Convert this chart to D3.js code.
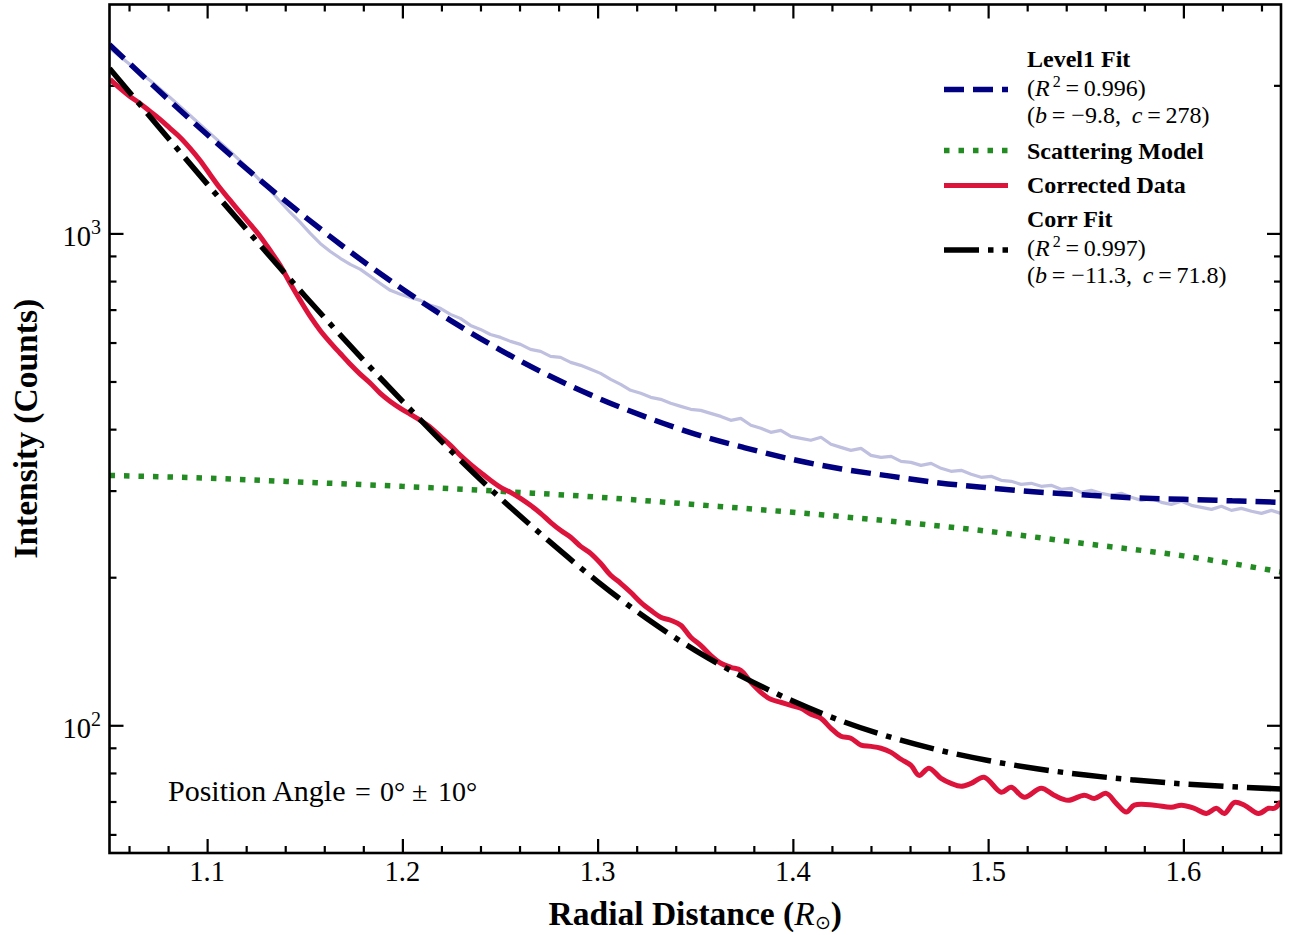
<!DOCTYPE html>
<html>
<head>
<meta charset="utf-8">
<script src="https://cdnjs.cloudflare.com/ajax/libs/d3/7.8.5/d3.min.js"></script>
<style>
	html, body { margin: 0; padding: 0; background: #fff; }
	svg { display: block; font-family: 'Liberation Serif', 'Times New Roman', serif; }
</style>
</head>
<body>
<div id="chart"></div>
<script>
'use strict';

// axis limits and ticks
var xDomain		= [1.05, 1.65];
var yDomain		= [55, 2920];
var xTicks		= [1.1, 1.2, 1.3, 1.4, 1.5, 1.6];
var xMinor		= [1.06, 1.08, 1.12, 1.14, 1.16, 1.18, 1.22, 1.24, 1.26, 1.28, 1.32, 1.34, 1.36, 1.38,
				   1.42, 1.44, 1.46, 1.48, 1.52, 1.54, 1.56, 1.58, 1.62, 1.64];
var yTicks		= [100, 1000];
var yTickExp	= ['2', '3'];
var yMinor		= [60, 70, 80, 90, 200, 300, 400, 500, 600, 700, 800, 900, 2000];

// fitted curves
var fitR		= [1.05, 1.075, 1.10, 1.125, 1.15, 1.175, 1.20, 1.225, 1.25, 1.275, 1.30, 1.325, 1.35,
				   1.375, 1.40, 1.425, 1.45, 1.475, 1.50, 1.525, 1.55, 1.575, 1.60, 1.625, 1.65];
var level1Fit	= [2420, 1954, 1589, 1304, 1082, 907, 771, 664, 580, 514, 463, 423, 391,
				   367, 347, 332, 321, 311, 304, 298, 294, 290, 288, 286, 284];
var corrFit		= [2165, 1650, 1261, 968, 747, 581, 456, 361, 290, 237, 196, 165, 142,
				   125, 112, 102, 94.6, 89.0, 84.8, 81.6, 79.2, 77.4, 76.0, 75.0, 74.2];

// scattering model
var scatterR	= [1.05, 1.10, 1.15, 1.20, 1.25, 1.30, 1.35, 1.40, 1.45, 1.50, 1.55, 1.60, 1.65];
var scatterModel = [322, 318, 312, 306, 299, 291, 281, 271, 260, 248, 234, 221, 205];

// level1 data (faint)
var level1R		= [1.0503, 1.0605, 1.0708, 1.0810, 1.0913, 1.1015, 1.1118, 1.1221, 1.1323,
				   1.1374, 1.1426, 1.1477, 1.1528, 1.1579, 1.1631, 1.1682, 1.1733, 1.1785, 1.1836,
				   1.1887, 1.1938, 1.1990, 1.2041, 1.2092, 1.2144, 1.2195, 1.2246, 1.2297, 1.2349,
				   1.2400, 1.2451, 1.2503, 1.2554, 1.2605, 1.2656, 1.2708, 1.2759, 1.2810, 1.2862,
				   1.2913, 1.2964, 1.3015, 1.3067, 1.3118, 1.3169, 1.3221, 1.3272, 1.3323, 1.3374,
				   1.3426, 1.3477, 1.3528, 1.3579, 1.3631, 1.3682, 1.3733, 1.3785, 1.3836, 1.3887,
				   1.3938, 1.3990, 1.4041, 1.4092, 1.4144, 1.4195, 1.4246, 1.4297, 1.4349, 1.4400,
				   1.4451, 1.4503, 1.4554, 1.4605, 1.4656, 1.4708, 1.4759, 1.4810, 1.4862, 1.4913,
				   1.4964, 1.5015, 1.5067, 1.5118, 1.5169, 1.5221, 1.5272, 1.5323, 1.5374, 1.5426,
				   1.5477, 1.5528, 1.5579, 1.5631, 1.5682, 1.5733, 1.5785, 1.5836, 1.5887, 1.5938,
				   1.5990, 1.6041, 1.6092, 1.6144, 1.6195, 1.6246, 1.6297, 1.6349, 1.6400, 1.6451,
				   1.6500];
var level1Counts = [2377, 2206, 2046, 1890, 1737, 1597, 1468, 1343, 1223,
				   1161, 1103, 1053, 1000, 954, 919, 890, 865, 845, 818,
				   791, 766, 752, 741, 731, 714, 704, 684.5, 671.8, 650,
				   638, 623, 614.6, 603.3, 594.9, 581.1, 575.7, 562.3, 559.8, 546.8,
				   539.2, 529.2, 519.3, 505.0, 493.3, 479.7, 473.0, 464.2, 459.9, 451.4,
				   445.0, 438.9, 436.8, 430.7, 424.6, 416.8, 420.7, 407.3, 401.6, 394.1,
				   397.8, 386.8, 383.2, 379.7, 385.0, 372.6, 367.3, 362.2, 365.6, 353.8,
				   350.5, 352.1, 344.0, 342.4, 337.6, 340.8, 333.0, 328.4, 329.9, 323.8,
				   319.3, 320.8, 314.8, 313.3, 308.9, 310.4, 306.1, 307.5, 301.8, 303.2,
				   297.6, 300.4, 296.2, 293.4, 296.2, 290.7, 286.6, 289.3, 284.0, 281.3,
				   285.3, 280.0, 277.4, 274.8, 278.7, 273.5, 276.1, 272.3, 269.7, 273.5,
				   269.7];

// corrected data
var corrR		= [1.0503, 1.0554, 1.0605, 1.0656, 1.0708, 1.0759, 1.0810, 1.0862, 1.0913, 1.0964,
				   1.1015, 1.1067, 1.1118, 1.1169, 1.1221, 1.1272, 1.1323, 1.1374, 1.1426, 1.1477,
				   1.1528, 1.1579, 1.1631, 1.1682, 1.1733, 1.1785, 1.1836, 1.1887, 1.1938, 1.1990,
				   1.2041, 1.2092, 1.2144, 1.2195, 1.2246, 1.2297, 1.2349, 1.2400, 1.2451, 1.2503,
				   1.2554, 1.2605, 1.2656, 1.2708, 1.2759, 1.2810, 1.2862, 1.2913, 1.2964, 1.3015,
				   1.3067, 1.3118, 1.3169, 1.3221, 1.3272, 1.3323, 1.3374, 1.3426, 1.3477, 1.3528,
				   1.3579, 1.3631, 1.3682, 1.3733, 1.3785, 1.3836, 1.3887, 1.3938, 1.3990, 1.4041,
				   1.4092, 1.4144, 1.4195, 1.4246, 1.4297, 1.4349, 1.4400, 1.4451, 1.4503, 1.4554,
				   1.4605, 1.4646, 1.4697, 1.4759, 1.4810, 1.4862, 1.4913, 1.4979, 1.5067, 1.5118,
				   1.5185, 1.5272, 1.5338, 1.5410, 1.5492, 1.5544, 1.5605, 1.5656, 1.5708, 1.5749,
				   1.5851, 1.5938, 1.5990, 1.6056, 1.6118, 1.6169, 1.6210, 1.6262, 1.6313, 1.6385,
				   1.6436, 1.6467, 1.6500];
var corrCounts	= [2056, 1971, 1898, 1838, 1770, 1705, 1635, 1567, 1489, 1407,
				   1318, 1235, 1167, 1103, 1043, 986, 923, 861, 791, 731,
				   678, 635, 600, 570, 542, 517, 496, 473, 455.5, 441,
				   428.7, 416.8, 403.4, 386.8, 370.8, 353.8, 339.2, 326.7, 314.8, 304.6,
				   297.5, 289.3, 280.0, 269.7, 258.6, 249.1, 241.1, 231.1, 223.7, 213.5,
				   201.8, 194.4, 186.4, 177.8, 171.3, 165.8, 163.5, 159.7, 151.0, 145.4,
				   138.8, 133.7, 131.2, 129.4, 122.3, 116.7, 112.9, 111.4, 109.8, 108.3,
				   105.3, 103.3, 98.6, 95.0, 94.1, 91.1, 90.6, 89.8, 88.1, 85.3,
				   82.9, 79.1, 81.8, 78.0, 76.2, 75.2, 76.2, 78.4, 73.1, 74.8,
				   71.4, 74.5, 72.1, 70.4, 72.1, 71.0, 72.7, 69.4, 66.6, 68.8,
				   68.8, 68.1, 68.8, 67.8, 66.2, 67.8, 66.2, 69.7, 68.8, 66.2,
				   67.8, 67.8, 70.0];

// plot box
var plot = { left: 109.5, right: 1281, top: 4.5, bottom: 853 };

var svg = d3.select('#chart').append('svg')
	.attr('width', 1289)
	.attr('height', 935);

var x = d3.scaleLinear().domain(xDomain).range([plot.left, plot.right]);
var y = d3.scaleLog().domain(yDomain).range([plot.bottom, plot.top]);

svg.append('clipPath').attr('id', 'clip')
	.append('rect')
	.attr('x', plot.left).attr('y', plot.top)
	.attr('width', plot.right - plot.left)
	.attr('height', plot.bottom - plot.top);

/**
 * draws inward ticks only, the frame is a separate rect
 */
var ticks = function(axis, transform, values, size){
	svg.append('g')
		.attr('transform', transform)
		.call(axis.tickValues(values).tickSize(size).tickFormat(''))
		.call(function(g){
			g.select('.domain').remove();
			g.selectAll('line').attr('stroke', '#000').attr('stroke-width', 2.2);
		});
};

ticks(d3.axisBottom(x), 'translate(0,' + plot.bottom + ')', xTicks, -14);
ticks(d3.axisBottom(x), 'translate(0,' + plot.bottom + ')', xMinor, -7);
ticks(d3.axisTop(x), 'translate(0,' + plot.top + ')', xTicks, -14);
ticks(d3.axisTop(x), 'translate(0,' + plot.top + ')', xMinor, -7);
ticks(d3.axisLeft(y), 'translate(' + plot.left + ',0)', yTicks, -14);
ticks(d3.axisLeft(y), 'translate(' + plot.left + ',0)', yMinor, -7);
ticks(d3.axisRight(y), 'translate(' + plot.right + ',0)', yTicks, -14);
ticks(d3.axisRight(y), 'translate(' + plot.right + ',0)', yMinor, -7);

// tick labels
svg.append('g').selectAll('text')
	.data(xTicks)
	.enter()
	.append('text')
	.attr('x', function(d){ return x(d); })
	.attr('y', 881)
	.attr('text-anchor', 'middle')
	.attr('font-size', 28.5)
	.text(function(d){ return d.toFixed(1); });

var yLab = svg.append('g').selectAll('text')
	.data(yTicks)
	.enter()
	.append('text')
	.attr('x', 101)
	.attr('y', function(d){ return y(d) + 13; })
	.attr('text-anchor', 'end')
	.attr('font-size', 28.5);
yLab.append('tspan').text('10');
yLab.append('tspan')
	.attr('dy', -12)
	.attr('font-size', 20)
	.text(function(d, i){ return yTickExp[i]; });

// curves
var line = d3.line()
	.x(function(d){ return x(d[0]); })
	.y(function(d){ return y(d[1]); });

var curves = svg.append('g').attr('clip-path', 'url(#clip)');

curves.append('path')
	.datum(d3.zip(level1R, level1Counts))
	.attr('d', line)
	.attr('fill', 'none')
	.attr('stroke', '#bfbfe0')
	.attr('stroke-width', 3.2)
	.attr('stroke-linejoin', 'round');

curves.append('path')
	.datum(d3.zip(fitR, level1Fit))
	.attr('d', line.curve(d3.curveMonotoneX))
	.attr('fill', 'none')
	.attr('stroke', '#000080')
	.attr('stroke-width', 5.5)
	.attr('stroke-dasharray', '20,9');

curves.append('path')
	.datum(d3.zip(scatterR, scatterModel))
	.attr('d', line.curve(d3.curveMonotoneX))
	.attr('fill', 'none')
	.attr('stroke', '#228b22')
	.attr('stroke-width', 5.5)
	.attr('stroke-dasharray', '5.5,9');

curves.append('path')
	.datum(d3.zip(corrR, corrCounts))
	.attr('d', line.curve(d3.curveCatmullRom))
	.attr('fill', 'none')
	.attr('stroke', '#dc143c')
	.attr('stroke-width', 5)
	.attr('stroke-linejoin', 'round');

curves.append('path')
	.datum(d3.zip(fitR, corrFit))
	.attr('d', line.curve(d3.curveMonotoneX))
	.attr('fill', 'none')
	.attr('stroke', '#000')
	.attr('stroke-width', 5.5)
	.attr('stroke-dasharray', '35,9,5.5,9');

// frame
svg.append('rect')
	.attr('x', plot.left).attr('y', plot.top)
	.attr('width', plot.right - plot.left)
	.attr('height', plot.bottom - plot.top)
	.attr('fill', 'none')
	.attr('stroke', '#000')
	.attr('stroke-width', 2.6);

// axis titles
var xt = svg.append('text')
	.attr('x', (plot.left + plot.right) / 2)
	.attr('y', 925)
	.attr('text-anchor', 'middle')
	.attr('font-size', 33.5)
	.attr('font-weight', 'bold');
xt.append('tspan').text('Radial Distance (');
xt.append('tspan').attr('font-style', 'italic').attr('font-weight', 'normal').text('R');
xt.append('tspan').attr('dy', 4).attr('font-size', 19).attr('font-weight', 'normal').text('\u2299');
xt.append('tspan').attr('dy', -4).text(')');

svg.append('text')
	.attr('transform', 'translate(37,' + ((plot.top + plot.bottom) / 2) + ') rotate(-90)')
	.attr('text-anchor', 'middle')
	.attr('font-size', 33.5)
	.attr('font-weight', 'bold')
	.text('Intensity (Counts)');

// annotation, math part spaced like the original
var note = svg.append('text')
	.attr('y', 801)
	.attr('font-size', 28);
note.append('tspan').attr('x', 168).attr('font-size', 30).text('Position Angle');
note.append('tspan').attr('x', 355).text('=');
note.append('tspan').attr('x', 380).text('0\u00b0');
note.append('tspan').attr('x', 412).text('\u00b1');
note.append('tspan').attr('x', 438).text('10\u00b0');

// legend
var legend = svg.append('g');
var lx0 = 944, lx1 = 1008, tx = 1027;

var sample = function(yy, color, dash, width){
	legend.append('line')
		.attr('x1', lx0).attr('x2', lx1)
		.attr('y1', yy).attr('y2', yy)
		.attr('stroke', color)
		.attr('stroke-width', width)
		.attr('stroke-dasharray', dash);
};
sample(89.5, '#000080', '20,9', 5.5);
sample(150.5, '#228b22', '5.5,9', 5.5);
sample(185.5, '#dc143c', null, 5);
sample(250, '#000', '35,9,5.5,9', 5.5);

var label = function(yy, txt){
	legend.append('text')
		.attr('x', tx).attr('y', yy)
		.attr('font-size', 24)
		.attr('font-weight', 'bold')
		.text(txt);
};
label(67, 'Level1 Fit');
label(159, 'Scattering Model');
label(193, 'Corrected Data');
label(227, 'Corr Fit');

var rsq = function(yy, val){
	var t = legend.append('text').attr('x', tx).attr('y', yy).attr('font-size', 24);
	t.append('tspan').text('(');
	t.append('tspan').attr('font-style', 'italic').text('R');
	t.append('tspan').attr('dx', 3).attr('dy', -9).attr('font-size', 16).text('2');
	t.append('tspan').attr('dy', 9).text('\u2009=\u2009' + val + ')');
};
rsq(96, '0.996');
rsq(256, '0.997');

var coef = function(yy, b, c){
	var t = legend.append('text').attr('x', tx).attr('y', yy).attr('font-size', 24);
	t.append('tspan').text('(');
	t.append('tspan').attr('font-style', 'italic').text('b');
	t.append('tspan').text('\u2009= \u2212' + b + ',\u2009 ');
	t.append('tspan').attr('font-style', 'italic').text('c');
	t.append('tspan').text('\u2009=\u2009' + c + ')');
};
coef(123, '9.8', '278');
coef(283, '11.3', '71.8');
</script>
</body>
</html>
